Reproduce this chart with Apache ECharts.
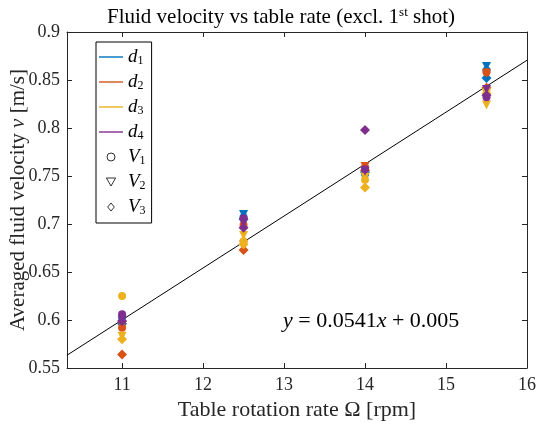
<!DOCTYPE html>
<html><head><meta charset="utf-8">
<script src="https://cdn.jsdelivr.net/npm/echarts@6/dist/echarts.min.js"></script>
<style>html,body{margin:0;padding:0;background:#fff}#c{width:539px;height:433px}</style>
</head><body><div id="c"></div>
<script>
const rates = [11, 12.5, 14, 15.5];
const dNames = ['d1','d2','d3','d4'];
const vNames = ['V1','V2','V3'];
const colors = ['#0072BD','#D95319','#EDB120','#7E2F8E'];
// values[d][V] at each rate
const d1V1 = [0.597, 0.707, 0.752, 0.860];
const d1V2 = [0.598, 0.710, 0.750, 0.864];
const d1V3 = [0.596, 0.705, 0.754, 0.852];
const d2V1 = [0.592, 0.699, 0.759, 0.858];
const d2V2 = [0.594, 0.678, 0.760, 0.857];
const d2V3 = [0.564, 0.673, 0.756, 0.842];
const d3V1 = [0.625, 0.682, 0.746, 0.840];
const d3V2 = [0.583, 0.688, 0.749, 0.824];
const d3V3 = [0.580, 0.679, 0.738, 0.836];
const d4V1 = [0.606, 0.706, 0.757, 0.832];
const d4V2 = [0.600, 0.701, 0.755, 0.840];
const d4V3 = [0.599, 0.696, 0.798, 0.834];
const fitSlope = 0.0541, fitIntercept = 0.005;
const xMin = 10.32, xMax = 16;
const xTicks = [11, 12, 13, 14, 15, 16];

const values = [[d1V1,d1V2,d1V3],[d2V1,d2V2,d2V3],[d3V1,d3V2,d3V3],[d4V1,d4V2,d4V3]];
const vSymbols = [{s:'circle',r:0,size:8},{s:'triangle',r:180,size:9},{s:'diamond',r:0,size:10}];
const legendIcons = {d:'path://M0,0 L24,0 L24,1.4 L0,1.4 Z',
  V1:'circle', V2:'path://M0,0 L10,0 L5,8.7 Z', V3:'path://M5,0 L10,6 L5,12 L0,6 Z'};
const serif = 'Liberation Serif';

const series = [];
dNames.forEach((d,i)=>series.push({name:d,type:'line',data:[],symbol:'none',lineStyle:{color:colors[i],width:1},itemStyle:{color:colors[i]}}));
vNames.forEach((v,j)=>series.push({name:v,type:'scatter',data:[],symbol:vSymbols[j].s,symbolRotate:vSymbols[j].r,
  itemStyle:{color:'#fff',borderColor:'#000',borderWidth:1}}));
series.push({name:'fit',type:'line',symbol:'none',silent:true,z:1,
  data:[[xMin, fitSlope*xMin+fitIntercept],[xMax, fitSlope*xMax+fitIntercept]],
  lineStyle:{color:'#000',width:1}});
values.forEach((vs,i)=>vs.forEach((arr,j)=>{
  series.push({name:dNames[i]+vNames[j],type:'scatter',z:3,symbol:vSymbols[j].s,symbolRotate:vSymbols[j].r,
    symbolSize:vSymbols[j].size,data:rates.map((r,k)=>[r,arr[k]]),itemStyle:{color:colors[i],opacity:1}});
}));

const legendData = [
  ...dNames.map((d,i)=>({name:d,icon:legendIcons.d,itemStyle:{color:colors[i],borderWidth:0}})),
  ...vNames.map(v=>({name:v,icon:legendIcons[v],itemStyle:{color:'#fff',borderColor:'#000',borderWidth:1}}))
];

const chart = echarts.init(document.getElementById('c'));
const rich = {i:{fontFamily:serif,fontStyle:'italic',fontSize:19,color:'#000',lineHeight:19},
  s:{fontFamily:serif,fontSize:12,color:'#000',padding:[8,0,0,0],lineHeight:19}};
chart.setOption({
  animation:false,
  title:{text:'Fluid velocity vs table rate (excl. 1{sup|st} shot)',left:276,textAlign:'center',top:1,
    textStyle:{fontFamily:serif,fontWeight:'normal',fontSize:21,color:'#000',
      rich:{sup:{fontFamily:serif,fontSize:13,color:'#000',padding:[0,0,10,0]}}}},
  grid:{left:67,right:12,top:32,bottom:65,outerBoundsMode:'none',containLabel:false},
  legend:{orient:'vertical',left:96,top:42,data:legendData,backgroundColor:'#fff',borderColor:'#000',borderWidth:1,
    padding:[5,6,6,3],itemWidth:24,itemHeight:8,itemGap:5,symbolKeepAspect:true,
    formatter:n=>'{i|'+n[0]+'}{s|'+n[1]+'}',textStyle:{rich}},
  xAxis:[{type:'value',min:xMin,max:xMax,
    axisLine:{lineStyle:{color:'#262626'}},splitLine:{show:false},
    axisTick:{inside:true,length:5,customValues:xTicks,lineStyle:{color:'#262626'}},
    axisLabel:{customValues:xTicks,fontFamily:serif,fontSize:18,color:'#262626',margin:8},
    name:'Table rotation rate Ω [rpm]',nameLocation:'middle',nameGap:31,nameMoveOverlap:false,
    nameTextStyle:{fontFamily:serif,fontSize:22,color:'#262626'}},
    {type:'value',position:'top',min:xMin,max:xMax,axisLine:{show:true,onZero:false,lineStyle:{color:'#262626'}},
    splitLine:{show:false},axisTick:{inside:true,length:5,customValues:xTicks,lineStyle:{color:'#262626'}},
    axisLabel:{show:false,customValues:xTicks}}],
  yAxis:[{type:'value',min:0.55,max:0.9,interval:0.05,
    axisLine:{show:true,lineStyle:{color:'#262626'}},splitLine:{show:false},
    axisTick:{show:true,inside:true,length:5,lineStyle:{color:'#262626'}},
    axisLabel:{fontFamily:serif,fontSize:18,color:'#262626',margin:7,formatter:v=>String(+v.toFixed(2))},
    name:'Averaged fluid velocity {i|v} [m/s]',nameLocation:'middle',nameGap:38,nameMoveOverlap:false,
    nameTextStyle:{fontFamily:serif,fontSize:21,color:'#262626',rich:{i:{fontFamily:serif,fontStyle:'italic',fontSize:21,color:'#262626'}}}},
    {type:'value',position:'right',min:0.55,max:0.9,interval:0.05,
    axisLine:{show:true,onZero:false,lineStyle:{color:'#262626'}},splitLine:{show:false},
    axisTick:{show:true,inside:true,length:5,lineStyle:{color:'#262626'}},axisLabel:{show:false}}],
  graphic:[{type:'text',left:283,top:310,style:{text:'{i|y} = 0.0541{i|x} + 0.005',
    font:'22px "Liberation Serif"',fill:'#000',rich:{i:{fontFamily:serif,fontStyle:'italic',fontSize:22,fill:'#000'}}}}],
  series
});
</script></body></html>
